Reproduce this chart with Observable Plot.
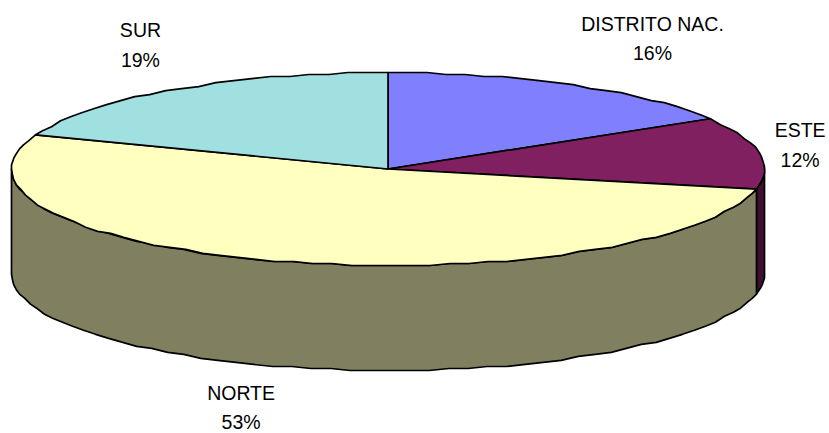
<!DOCTYPE html>
<html>
<head>
<meta charset="utf-8">
<script src="https://cdn.jsdelivr.net/npm/d3@7"></script>
<script src="https://cdn.jsdelivr.net/npm/@observablehq/plot@0.6"></script>
<style>
html,body{margin:0;padding:0;background:#fff}
svg{display:block}
</style>
</head>
<body>
<div id="chart"></div>
<script>
const regions = ["DISTRITO NAC.", "ESTE", "NORTE", "SUR"];
const shares = [16.4, 11.8, 52.5, 19.3];
const topColors = ["#8080ff", "#802060", "#ffffc0", "#a0e0e0"];
const wallColors = ["#404080", "#401030", "#808060", "#507070"];

const depth = 105 / 96.5;
const gridX = 376, gridY = 48, step = 3;
const total = d3.sum(shares);
const rad = (deg) => deg * Math.PI / 180;
const pt = (deg, drop = 0) => ({
  x: Math.round(Math.sin(rad(deg)) * gridX) / gridX,
  y: Math.round(-Math.cos(rad(deg)) * gridY) / gridY + drop
});
function arc(a0, a1, drop = 0) {
  const out = [];
  const n = Math.max(1, Math.round((a1 - a0) / step));
  for (let i = 0; i <= n; i++) out.push(pt(a0 + (a1 - a0) * i / n, drop));
  return out;
}

let cum = 0;
const slices = regions.map((name, i) => {
  const a0 = cum / total * 360;
  cum += shares[i];
  return {name, share: shares[i], a0, a1: cum / total * 360};
});

const tops = slices.flatMap((s) => {
  const pts = [{x: 0, y: 0}, ...arc(s.a0, s.a1), {x: 0, y: 0}];
  return pts.map((p) => ({...p, name: s.name}));
});

// the visible part of the wall is the front half of the rim (90° to 270°)
const walls = slices.flatMap((s) => {
  const a0 = Math.max(s.a0, 90), a1 = Math.min(s.a1, 270);
  if (a1 <= a0) return [];
  const front = arc(a0, a1);
  const back = arc(a0, a1, depth).reverse();
  const pts = [...front, ...back, front[0]];
  return pts.map((p) => ({...p, name: s.name}));
});

// label offsets from the rim point at each slice's middle angle
const labelOffsets = {
  "DISTRITO NAC.": [79, -49],
  "ESTE": [41, -10],
  "NORTE": [-43, 38],
  "SUR": [-33, -47]
};
const labels = slices.map((s) => {
  const mid = (s.a0 + s.a1) / 2;
  const rimDrop = mid > 90 && mid < 270 ? depth : 0;
  return {
    text: s.name + "\n" + Math.round(s.share) + "%",
    x: Math.sin(rad(mid)),
    y: -Math.cos(rad(mid)) + rimDrop,
    offset: labelOffsets[s.name]
  };
});

const chart = Plot.plot({
  width: 829,
  height: 433,
  margin: 0,
  style: {background: "#fff", overflow: "visible"},
  x: {domain: [-1, 1], range: [11, 764], axis: null},
  y: {domain: [-1, 1], range: [72, 265], axis: null},
  marks: [
    Plot.line(walls, {
      x: "x", y: "y", z: "name",
      fill: (d) => wallColors[regions.indexOf(d.name)],
      stroke: "#000", strokeWidth: 1.7, strokeLinejoin: "round"
    }),
    Plot.line(tops, {
      x: "x", y: "y", z: "name",
      fill: (d) => topColors[regions.indexOf(d.name)],
      stroke: "#000", strokeWidth: 1.7, strokeLinejoin: "round"
    }),
    ...labels.map((l) => Plot.text([l], {
      x: "x", y: "y", text: "text",
      dx: l.offset[0], dy: l.offset[1],
      fill: "#000",
      fontFamily: "Liberation Sans, Arial, sans-serif",
      fontSize: 19.5,
      lineHeight: 1.5,
      textAnchor: "middle"
    }))
  ]
});
document.getElementById("chart").appendChild(chart);
</script>
</body>
</html>
